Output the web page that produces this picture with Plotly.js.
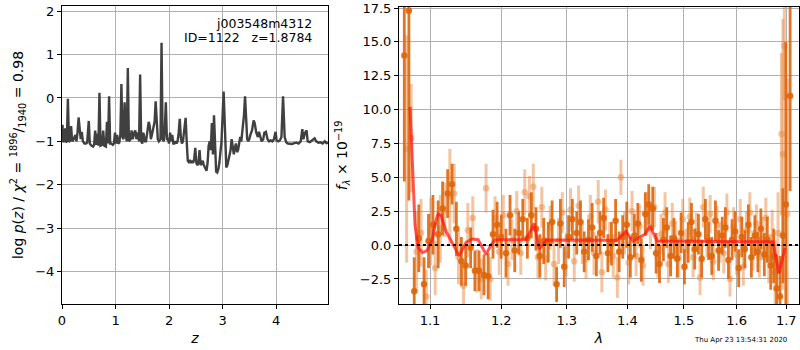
<!DOCTYPE html>
<html>
<head>
<meta charset="utf-8">
<script src="https://cdn.plot.ly/plotly-3.0.1.min.js"></script>
<style>
html,body{margin:0;padding:0;background:#fff;}
#chart{width:800px;height:350px;}
</style>
</head>
<body>
<div id="chart"></div>
<script>
// ---- Left panel: log p(z) ----
const zGrid = [0.00,0.01,0.02,0.04,0.06,0.07,0.09,0.11,0.13,0.15,0.17,0.19,0.22,0.25,0.27,0.29,0.31,0.33,0.35,0.37,0.39,0.42,0.45,0.47,0.50,0.52,0.55,0.58,0.60,0.62,0.64,0.66,0.68,0.70,0.72,0.75,0.77,0.79,0.82,0.84,0.86,0.88,0.90,0.92,0.95,0.97,0.99,1.01,1.03,1.05,1.07,1.09,1.11,1.13,1.15,1.17,1.19,1.21,1.23,1.25,1.28,1.30,1.32,1.35,1.37,1.39,1.42,1.44,1.46,1.48,1.50,1.52,1.55,1.57,1.59,1.62,1.64,1.66,1.68,1.70,1.73,1.75,1.77,1.79,1.81,1.84,1.86,1.88,1.90,1.92,1.94,1.96,1.98,2.00,2.02,2.04,2.06,2.08,2.10,2.12,2.14,2.16,2.18,2.20,2.22,2.24,2.26,2.28,2.31,2.33,2.35,2.37,2.39,2.41,2.43,2.45,2.47,2.49,2.51,2.53,2.55,2.57,2.59,2.61,2.63,2.65,2.67,2.70,2.72,2.74,2.76,2.78,2.80,2.82,2.84,2.86,2.88,2.90,2.92,2.94,2.96,2.98,3.02,3.05,3.07,3.09,3.11,3.13,3.15,3.17,3.19,3.21,3.23,3.25,3.27,3.29,3.31,3.33,3.35,3.37,3.40,3.42,3.44,3.46,3.48,3.50,3.52,3.55,3.58,3.60,3.63,3.66,3.68,3.70,3.73,3.76,3.78,3.81,3.84,3.87,3.90,3.93,3.96,3.99,4.01,4.04,4.07,4.10,4.13,4.16,4.19,4.22,4.26,4.30,4.34,4.38,4.42,4.46,4.49,4.51,4.54,4.57,4.59,4.63,4.67,4.70,4.72,4.75,4.79,4.83,4.87,4.91,4.94,4.97];
const logPz = [-1.00,-0.62,-1.02,-0.98,-0.70,-1.02,-1.00,-0.02,-1.02,-0.98,-0.65,-1.00,-0.95,-0.85,-1.00,-0.80,-0.45,-0.75,-0.95,-0.78,-1.00,-1.05,-1.05,-1.03,-0.53,-1.05,-1.10,-1.12,-1.08,-0.75,-1.08,-0.82,-1.10,0.12,-1.10,-1.08,-0.75,-1.10,-1.12,-0.55,-1.05,0.04,-1.05,-1.05,-1.08,-1.05,-0.80,-1.05,-0.85,-1.05,-1.03,-0.85,0.32,-0.90,-0.95,-0.10,-0.85,-1.00,0.69,-1.00,-0.95,-0.75,-0.95,-0.80,-0.75,-0.95,-0.80,-1.00,0.54,-1.00,-1.05,-0.80,-1.00,-1.00,-0.85,-0.55,-0.65,-0.95,-0.85,-0.70,-0.55,-0.08,-0.60,-0.95,-1.00,-0.95,1.27,-0.95,-1.00,-0.75,-0.10,-0.95,-0.95,-1.05,-0.80,-1.00,-0.85,-1.05,-1.05,-1.00,-1.05,-1.00,-0.80,-0.48,-0.90,-1.05,-1.00,-0.70,-0.46,-1.00,-1.45,-1.48,-1.45,-1.50,-1.45,-1.50,-1.40,-1.15,-1.50,-1.55,-1.50,-1.20,-1.55,-1.50,-1.45,-1.55,-1.60,-1.68,-1.50,-1.10,-1.00,-1.20,-0.58,-1.30,-0.40,-1.40,-1.70,-1.72,-1.65,-1.50,-1.30,-1.00,0.15,-1.00,-1.60,-1.55,-1.45,-1.35,-1.20,-0.95,-1.10,-1.30,-1.15,-1.05,-1.25,-1.20,-1.05,-0.90,-1.00,-0.80,-0.40,0.04,-0.55,-0.95,-1.00,-0.95,-0.85,-0.75,-0.52,-0.58,-0.80,-0.90,-0.78,-0.85,-1.00,-0.95,-0.80,-0.78,-0.95,-1.00,-0.98,-1.00,-0.95,-0.78,-0.98,-1.00,-0.98,-0.90,0.04,-0.90,-1.02,-1.05,-1.05,-1.06,-1.04,-1.03,-1.05,-1.00,-0.72,-0.95,-0.80,-0.75,-1.00,-1.02,-0.98,-0.95,-0.93,-1.00,-1.03,-1.02,-1.05,-1.00,-1.04,-1.03];

// ---- Right panel: spectrum ----
const lamA = [1.066,1.072,1.079,1.085,1.092,1.098,1.104,1.111,1.117,1.124,1.130,1.136,1.143,1.149,1.156,1.162,1.168,1.175,1.181,1.188,1.194,1.200,1.207,1.213,1.220,1.226,1.232,1.239,1.245,1.252,1.258,1.264,1.271,1.277,1.284,1.290,1.296,1.303,1.309,1.316,1.322,1.328,1.335,1.341,1.348,1.354,1.360,1.367,1.373,1.380,1.386,1.392,1.399,1.405,1.412,1.418,1.424,1.431,1.437,1.444,1.450,1.456,1.463,1.469,1.476,1.482,1.488,1.495,1.501,1.508,1.514,1.520,1.527,1.533,1.540,1.546,1.552,1.559,1.565,1.572,1.578,1.584,1.591,1.597,1.604,1.610,1.616,1.623,1.629,1.636,1.642,1.648,1.655,1.661,1.668,1.674,1.680,1.687,1.693,1.699,1.708];
const fluxA = [14.0,17.3,-3.4,0.5,-2.9,0.3,1.5,0.8,2.7,3.8,4.5,1.2,-1.2,-1.5,-0.2,-1.9,-1.9,-2.2,-2.3,0.8,1.5,0.6,-0.6,2.2,-0.4,0.9,1.9,0.5,2.2,1.2,-0.8,0.3,0.2,1.7,-2.9,1.6,-1.6,0.6,1.9,0.9,1.7,-0.5,0.4,1.3,-0.8,0.9,2.0,-0.6,0.1,1.8,-0.5,0.6,1.5,-0.9,0.7,1.6,-1.1,2.3,3.0,2.7,-0.6,-1.4,0.4,1.3,-0.8,0.5,-1.0,0.9,-1.6,0.2,1.7,-0.3,0.8,-1.0,1.9,0.3,-0.8,1.8,-0.4,0.7,1.3,-1.1,0.4,1.0,-1.7,0.6,-0.3,1.5,-0.9,0.7,-0.5,1.2,-0.7,0.4,-1.5,-0.8,-3.2,-3.8,0.7,3.0,11.0];
const errA = [9.3,14.0,2.5,2.5,2.0,2.0,2.2,2.5,2.0,1.8,1.5,2.0,1.8,1.5,1.5,1.5,1.5,1.5,1.7,1.8,1.7,1.6,1.8,1.5,1.6,1.6,1.5,1.5,1.7,1.6,1.6,1.7,1.5,1.6,1.3,1.8,1.5,1.6,1.5,1.6,1.6,1.5,1.5,1.8,1.5,1.6,1.5,1.4,1.6,1.6,1.5,1.6,1.7,1.5,1.6,1.5,1.6,1.6,1.5,1.6,1.5,1.4,1.6,1.5,1.5,1.5,1.4,1.5,1.3,1.5,1.4,1.5,1.5,1.4,1.5,1.4,1.4,1.5,1.5,1.4,1.5,1.4,1.5,1.5,1.4,1.5,1.4,1.5,1.5,1.5,1.5,1.5,1.6,1.7,1.8,2.0,2.5,3.0,3.5,12.0,7.0];

const lamB = [1.069,1.075,1.082,1.088,1.095,1.101,1.107,1.114,1.120,1.127,1.133,1.139,1.146,1.152,1.159,1.165,1.171,1.178,1.184,1.191,1.197,1.203,1.210,1.216,1.223,1.229,1.235,1.242,1.248,1.255,1.261,1.267,1.274,1.280,1.287,1.293,1.299,1.306,1.312,1.319,1.325,1.331,1.338,1.344,1.351,1.357,1.363,1.370,1.376,1.383,1.389,1.395,1.402,1.408,1.415,1.421,1.427,1.434,1.440,1.447,1.453,1.459,1.466,1.472,1.479,1.485,1.491,1.498,1.504,1.511,1.517,1.523,1.530,1.536,1.543,1.549,1.555,1.562,1.568,1.575,1.581,1.587,1.594,1.600,1.607,1.613,1.619,1.626,1.632,1.639,1.645,1.651,1.658,1.664,1.671,1.677,1.683,1.690,1.693,1.696,1.702];
const fluxB = [7.1,7.9,-0.5,0.9,-3.8,1.0,-1.7,1.2,2.6,3.6,3.8,-0.9,-3.0,1.1,2.0,-1.9,-2.5,4.2,-2.5,2.0,-0.5,2.2,-1.4,0.4,2.5,-0.6,3.9,3.6,4.3,-0.9,2.8,-1.0,1.3,-1.4,0.3,2.4,-0.7,2.6,-1.2,2.9,0.2,-1.0,2.1,-0.6,3.2,-2.0,2.6,0.2,-0.8,-2.4,5.0,0.9,-1.3,2.5,-0.8,1.4,-1.5,2.3,1.3,2.8,-0.9,0.8,2.4,-1.4,1.6,0.3,-0.9,1.9,-0.3,2.1,-0.9,1.0,-2.4,2.8,0.6,2.3,-1.2,1.5,0.2,-0.6,2.4,-2.5,1.3,-0.7,1.9,-1.6,1.1,2.4,-0.4,1.6,-0.9,0.5,2.0,-1.0,0.6,-2.0,0.9,8.2,6.7,14.7,2.3];
const errB = [8.4,4.0,3.0,2.5,2.0,2.5,2.0,2.5,2.0,3.5,2.2,2.0,1.5,2.0,1.6,1.6,1.5,1.8,1.6,1.6,1.7,1.5,1.6,1.5,1.5,1.6,1.7,1.5,1.7,1.6,1.5,1.6,1.6,1.6,1.7,1.5,1.6,1.6,1.5,1.5,1.6,1.5,1.6,1.6,1.6,1.5,1.5,1.5,1.6,1.5,1.3,1.6,1.6,1.5,1.5,1.6,1.5,1.6,1.6,1.5,1.5,1.5,1.5,1.4,1.5,1.5,1.5,1.5,1.5,1.4,1.5,1.4,1.3,1.5,1.5,1.4,1.4,1.4,1.5,1.5,1.4,1.3,1.5,1.5,1.5,1.4,1.4,1.5,1.5,1.4,1.5,1.6,1.5,1.8,2.0,2.4,3.0,6.0,10.0,4.0,10.0];

const lamModel = [1.0735,1.0770,1.0800,1.0840,1.0900,1.0960,1.1030,1.1080,1.1108,1.1150,1.1218,1.1300,1.1398,1.1496,1.1581,1.1666,1.1780,1.1850,1.1910,1.2372,1.2494,1.2570,1.2678,1.3823,1.3976,1.4096,1.4305,1.4393,1.4517,1.6726,1.6849,1.6973];
const fluxModel = [10.2,5.0,1.5,-0.2,-0.55,-0.4,0.4,1.8,2.3,2.2,1.0,0.2,-0.8,0.2,0.45,0.4,-0.7,0.0,0.38,0.4,1.6,-0.3,0.38,0.35,1.0,0.3,0.8,1.4,0.3,0.25,-2.1,-0.2];

const lamTicks = [1.1,1.2,1.3,1.4,1.5,1.6,1.7];
const lamTickText = ['1.1','1.2','1.3','1.4','1.5','1.6','1.7'];

const darkOrange = 'rgba(222,102,12,0.9)';
const lightOrange = 'rgba(232,140,70,0.5)';
const FONT = 'DejaVu Sans, sans-serif';

const traces = [
  {x: zGrid, y: logPz, xaxis: 'x', yaxis: 'y', type: 'scatter', mode: 'lines',
   line: {color: '#404040', width: 2.4}},
  {x: lamB, y: fluxB, xaxis: 'x2', yaxis: 'y2', type: 'scatter', mode: 'markers',
   marker: {color: lightOrange, size: 6.5},
   error_y: {type: 'data', array: errB, visible: true, color: lightOrange, thickness: 3, width: 0}},
  {x: lamA, y: fluxA, xaxis: 'x2', yaxis: 'y2', type: 'scatter', mode: 'markers',
   marker: {color: darkOrange, size: 6.5},
   error_y: {type: 'data', array: errA, visible: true, color: darkOrange, thickness: 2.8, width: 0}},
  {x: lamModel, y: fluxModel, xaxis: 'x2', yaxis: 'y2', type: 'scatter', mode: 'lines',
   line: {color: 'rgba(255,20,20,0.72)', width: 3}}
];

const axBase = {
  showline: true, mirror: true, linecolor: '#000', linewidth: 1,
  ticks: 'outside', ticklen: 4, tickcolor: '#000', tickwidth: 1,
  showgrid: true, gridcolor: '#b0b0b0', gridwidth: 1, zeroline: false,
  tickfont: {family: FONT, size: 13, color: '#000'}
};

const layout = {
  width: 800, height: 350,
  margin: {l: 0, r: 0, t: 0, b: 0},
  paper_bgcolor: '#fff', plot_bgcolor: '#fff',
  showlegend: false,
  font: {family: FONT, size: 13, color: '#000'},
  xaxis: Object.assign({}, axBase, {
    domain: [62/800, 328/800], anchor: 'y', range: [0, 4.97], dtick: 1, tick0: 0,
    title: {text: '<i>z</i>', font: {family: FONT, size: 14}, standoff: 6}
  }),
  yaxis: Object.assign({}, axBase, {
    domain: [46/350, 344/350], anchor: 'x', range: [-4.75, 2.12], dtick: 1, tick0: 0,
    title: {text: 'log <i>p</i>(<i>z</i>) / <i>χ</i><sup>2</sup> = <sup>1896</sup>/<sub>1940</sub> = 0.98', font: {family: FONT, size: 14}, standoff: 8}
  }),
  xaxis2: Object.assign({}, axBase, {
    domain: [399/800, 799/800], anchor: 'y2', type: 'log', range: [0.02494, 0.23719],
    tickmode: 'array', tickvals: lamTicks, ticktext: lamTickText,
    title: {text: '<i>λ</i>', font: {family: FONT, size: 14}, standoff: 6}
  }),
  yaxis2: Object.assign({}, axBase, {
    domain: [46/350, 343.3/350], anchor: 'x2', range: [-4.35, 17.6], dtick: 2.5, tick0: 0, tickformat: '.1f',
    title: {text: '<i>f</i><sub><i>λ</i></sub> × 10<sup>−19</sup>', font: {family: FONT, size: 14}, standoff: 8}
  }),
  shapes: [
    {type: 'line', xref: 'x2 domain', yref: 'y2', x0: 0, x1: 1, y0: 0, y1: 0,
     line: {color: '#000', width: 2, dash: 'dot'}, layer: 'above'}
  ],
  annotations: [
    {xref: 'paper', yref: 'paper', x: 314/800, y: (350-23)/350, xanchor: 'right', yanchor: 'middle',
     text: 'j003548m4312', showarrow: false, font: {family: FONT, size: 12.5, color: '#000'}},
    {xref: 'paper', yref: 'paper', x: 314/800, y: (350-38)/350, xanchor: 'right', yanchor: 'middle',
     text: 'ID=1122   z=1.8784', showarrow: false, font: {family: FONT, size: 12.5, color: '#000'}},
    {xref: 'paper', yref: 'paper', x: 789/800, y: (350-340)/350, xanchor: 'right', yanchor: 'middle',
     text: 'Thu Apr 23 13:54:31 2020', showarrow: false, font: {family: FONT, size: 7, color: '#000'}}
  ]
};

Plotly.newPlot('chart', traces, layout, {displayModeBar: false, staticPlot: true});
</script>
</body>
</html>
